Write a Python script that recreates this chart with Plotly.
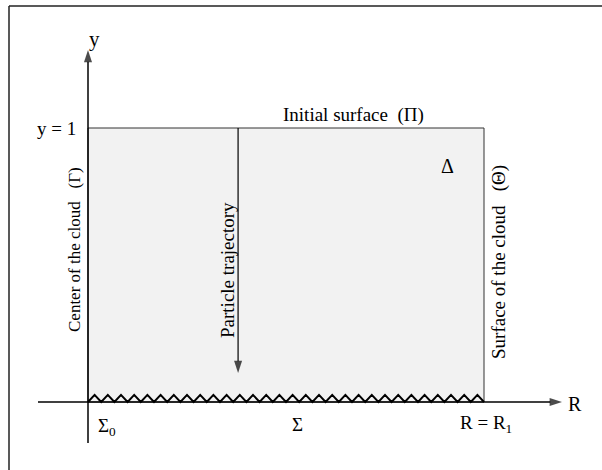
import plotly.graph_objects as go

# ---- schematic "data" ----
R_START = 0.0          # Sigma_0 / centre of the cloud
R_END = 1.0            # R = R1 / surface of the cloud
Y_TOP = 1.0            # y = 1, initial surface
TRAJ_R = 0.379         # position of the particle trajectory
N_TEETH = 30           # zig-zag teeth along Sigma
TOOTH_H = 0.026        # zig-zag height (y units)

axis_labels = ["y", "R"]
boundary_labels = ["Initial surface \u00a0(\u03a0)", "Center of the cloud \u00a0\u00a0(\u0393)",
                   "Surface of the cloud \u00a0\u00a0(\u0398)", "\u0394"]
bottom_labels = ["\u03a3<sub>0</sub>", "\u03a3", "R = R<sub>1</sub>"]
traj_label = "Particle trajectory"
ytop_label = "y = 1"

W, H = 602, 470
X0PX, Y0PX = 88, 402        # pixel of origin
SX, SY = 396, 274           # pixels per unit


def px(x):
    return (x - X0PX) / SX


def py(y):
    return (Y0PX - y) / SY


FAMILY = "Liberation Serif, Times New Roman, serif"

fig = go.Figure()

# zig-zag along Sigma
zx, zy = [], []
for i in range(2 * N_TEETH + 1):
    zx.append(R_START + (R_END - R_START) * i / (2 * N_TEETH))
    zy.append(0.0 if i % 2 == 0 else TOOTH_H)
fig.add_trace(go.Scatter(x=zx, y=zy, mode="lines", line=dict(color="black", width=2),
                         hoverinfo="skip", showlegend=False))


def arrow(x0, y0, x1, y1, width=1.5):
    fig.add_trace(go.Scatter(x=[x0, x1], y=[y0, y1], mode="lines+markers",
                             line=dict(color="black", width=width),
                             marker=dict(symbol="arrow", size=[0, 13], angleref="previous",
                                         color="black", line=dict(width=0)),
                             hoverinfo="skip", showlegend=False))


arrow(R_START, py(443), R_START, py(50))        # y axis
arrow(px(38), 0, px(562), 0)                    # R axis
arrow(TRAJ_R, Y_TOP, TRAJ_R, py(373), 1.2)      # particle trajectory

shapes = [
    dict(type="rect", xref="x", yref="y", x0=R_START, x1=R_END, y0=0, y1=Y_TOP,
         fillcolor="#f2f2f2", line=dict(color="#333333", width=1), layer="below"),
    dict(type="line", xref="paper", yref="paper", x0=9 / W, x1=9 / W, y0=0, y1=1 - 6 / H,
         line=dict(color="#222", width=1.5)),
    dict(type="line", xref="paper", yref="paper", x0=9 / W, x1=1, y0=1 - 6 / H, y1=1 - 6 / H,
         line=dict(color="#222", width=1.5)),
]

ann = []


def text(t, x, y, angle=0, xanchor="center", size=19):
    ann.append(dict(x=x, y=y, xref="x", yref="y", text=t, showarrow=False, textangle=angle,
                    xanchor=xanchor, yanchor="middle",
                    font=dict(family=FAMILY, size=size, color="black")))


text(axis_labels[0], px(94), py(39), size=21)
text(axis_labels[1], px(575), py(404), size=20)
text(ytop_label, px(78), Y_TOP, xanchor="right")
text(boundary_labels[0], px(353), py(115))
text(boundary_labels[1], px(74), py(250), angle=-90, size=17)
text(boundary_labels[2], px(499), py(262), angle=-90)
text(boundary_labels[3], px(447), py(166), size=20)
text(traj_label, px(227), py(270), angle=-90)
text(bottom_labels[0], px(107), py(427))
text(bottom_labels[1], px(297), py(424))
text(bottom_labels[2], px(486), py(424))

fig.update_layout(
    width=W, height=H, margin=dict(l=0, r=0, t=0, b=0),
    paper_bgcolor="white", plot_bgcolor="white",
    xaxis=dict(range=[px(0), px(W)], visible=False, fixedrange=True),
    yaxis=dict(range=[py(H), py(0)], visible=False, fixedrange=True),
    shapes=shapes, annotations=ann, showlegend=False,
)
fig.write_html("out.html", config={"displayModeBar": False},
               post_script="document.body.style.margin='0px';document.body.style.overflow='hidden';")
